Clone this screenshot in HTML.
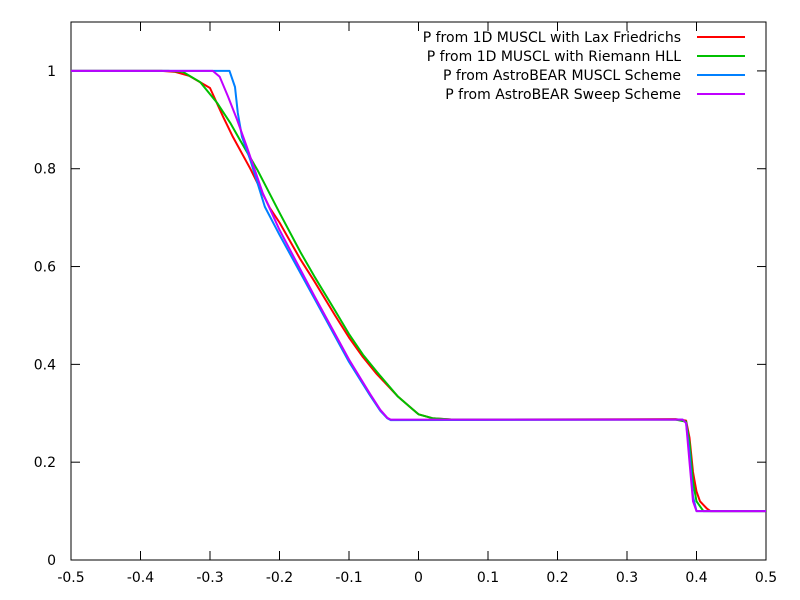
<!DOCTYPE html>
<html><head><meta charset="utf-8"><style>
body{margin:0;background:#fff}
svg{display:block;font-family:"DejaVu Sans","Liberation Sans",sans-serif;font-size:14px}
</style></head><body>
<svg id="chart" width="800" height="600">
<rect x="71" y="22" width="695" height="538" fill="none" stroke="#000" stroke-width="1"/>
<g id="axes"></g>
<g id="series"></g>
<g id="legend"></g>
</svg>
<script>
const xTicks=[-0.5,-0.4,-0.3,-0.2,-0.1,0,0.1,0.2,0.3,0.4,0.5];
const xTickLabels=["-0.5","-0.4","-0.3","-0.2","-0.1","0","0.1","0.2","0.3","0.4","0.5"];
const yTicks=[0,0.2,0.4,0.6,0.8,1];
const yTickLabels=["0","0.2","0.4","0.6","0.8","1"];
const seriesNames=["P from 1D MUSCL with Lax Friedrichs","P from 1D MUSCL with Riemann HLL","P from AstroBEAR MUSCL Scheme","P from AstroBEAR Sweep Scheme"];
const seriesColors=["#ff0000","#00c000","#0080ff","#c000ff"];
const laxX=[-0.5,-0.37,-0.35,-0.33,-0.3,-0.281,-0.267,-0.242,-0.214,-0.2,-0.17,-0.15,-0.12,-0.1,-0.08,-0.06,-0.05,-0.03,-0.01,0,0.02,0.05,0.37,0.385,0.39,0.395,0.4,0.405,0.415,0.42,0.5];
const laxY=[1,1,0.998,0.99,0.965,0.906,0.865,0.8,0.72,0.69,0.615,0.57,0.5,0.455,0.415,0.38,0.365,0.335,0.31,0.298,0.29,0.287,0.288,0.285,0.25,0.18,0.14,0.12,0.105,0.1,0.1];
const hllX=[-0.5,-0.36,-0.339,-0.314,-0.29,-0.271,-0.257,-0.232,-0.2,-0.17,-0.15,-0.12,-0.1,-0.08,-0.06,-0.05,-0.03,-0.01,0,0.02,0.05,0.37,0.385,0.39,0.395,0.4,0.41,0.5];
const hllY=[1,1,0.998,0.977,0.935,0.894,0.859,0.798,0.71,0.63,0.58,0.51,0.462,0.42,0.385,0.368,0.335,0.31,0.298,0.29,0.287,0.287,0.283,0.24,0.16,0.12,0.1,0.1];
const muscX=[-0.5,-0.272,-0.264,-0.26,-0.254,-0.242,-0.221,-0.2,-0.15,-0.1,-0.07,-0.055,-0.045,-0.04,0.38,0.385,0.39,0.395,0.4,0.5];
const muscY=[1,1,0.967,0.914,0.865,0.818,0.722,0.665,0.535,0.405,0.337,0.305,0.29,0.286,0.287,0.28,0.22,0.13,0.1,0.1];
const sweepX=[-0.5,-0.296,-0.286,-0.274,-0.261,-0.247,-0.224,-0.2,-0.15,-0.1,-0.07,-0.055,-0.045,-0.04,0.38,0.385,0.39,0.395,0.4,0.5];
const sweepY=[1,1,0.988,0.947,0.9,0.845,0.75,0.675,0.54,0.41,0.34,0.307,0.291,0.287,0.287,0.28,0.2,0.12,0.1,0.1];
const allX=[laxX,hllX,muscX,sweepX], allY=[laxY,hllY,muscY,sweepY];

const NS="http://www.w3.org/2000/svg";
const X=v=>71+(v+0.5)*695;
const Y=v=>560-v/1.1*538;
function mk(t,a,p){const e=document.createElementNS(NS,t);for(const k in a)e.setAttribute(k,a[k]);p.appendChild(e);return e;}
const axes=document.getElementById('axes');
xTicks.forEach((v,i)=>{
 const g=mk('g',{},axes);
 
 
 mk('line',{x1:X(v),x2:X(v),y1:560,y2:551,stroke:'#000'},g);
 mk('line',{x1:X(v),x2:X(v),y1:22,y2:31,stroke:'#000'},g);
 const t=mk('text',{x:X(v),y:582,'text-anchor':'middle'},g);t.textContent=xTickLabels[i];
});
yTicks.forEach((v,i)=>{
 const g=mk('g',{},axes);
 
 
 mk('line',{x1:71,x2:80,y1:Y(v),y2:Y(v),stroke:'#000'},g);
 mk('line',{x1:766,x2:757,y1:Y(v),y2:Y(v),stroke:'#000'},g);
 const t=mk('text',{x:56,y:Y(v)+5,'text-anchor':'end'},g);t.textContent=yTickLabels[i];
});
const ser=document.getElementById('series');
allX.forEach((xs,s)=>{
 const pts=xs.map((x,i)=>X(x).toFixed(1)+','+Y(allY[s][i]).toFixed(1)).join(' ');
 const p=mk('polyline',{points:pts,fill:'none',stroke:seriesColors[s],'stroke-width':2,'stroke-linejoin':'round'},ser);
 
 
});
const leg=document.getElementById('legend');
seriesNames.forEach((n,i)=>{
 const g=mk('g',{},leg);
 
 
 const y=37+i*19;
 const t=mk('text',{x:681,y:y+5,'text-anchor':'end'},g);t.textContent=n;
 mk('line',{x1:697,x2:745,y1:y,y2:y,stroke:seriesColors[i],'stroke-width':2},g);
});
</script>
</body></html>
